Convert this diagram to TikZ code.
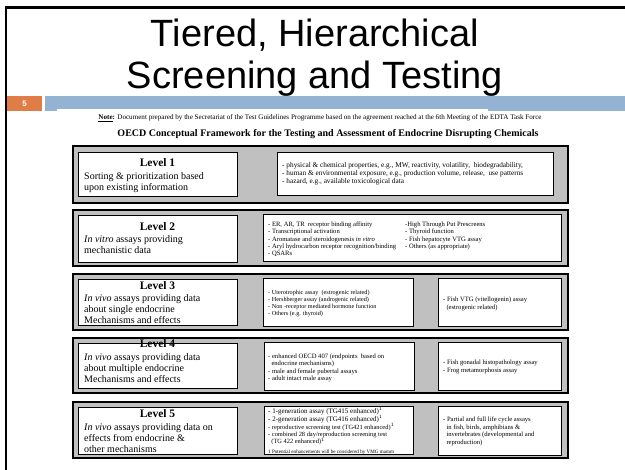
\documentclass[tikz,border=0pt]{standalone}
\usepackage{fontspec}
\setmainfont{Liberation Serif}
\newfontfamily\slidefont{Liberation Sans}
\usetikzlibrary{positioning}
\definecolor{slideblue}{RGB}{148,179,210}
\definecolor{slideorange}{RGB}{224,125,70}
\definecolor{bandgray}{RGB}{192,192,192}
\tikzset{
  band/.style={draw=black, fill=bandgray, line width=1.3pt},
  cell/.style={draw=black, fill=white, line width=0.9pt, inner sep=0pt, anchor=north west},
  lvlhead/.style={font=\fontsize{11.5}{12}\selectfont\bfseries, anchor=base, inner sep=0pt},
  lvlbody/.style={font=\fontsize{10}{11}\selectfont, align=left, anchor=north west, inner sep=0pt},
  tinytext/.style={align=left, anchor=north west, inner sep=0pt},
}
\begin{document}
\begin{tikzpicture}[x=1pt, y=-1pt]
  \useasboundingbox (0,0) rectangle (625,470);
  \fill[white] (0,0) rectangle (625,470);
  % slide frame and title
  \draw[line width=2.5pt] (6,470) -- (6,7.5) -- (625,7.5);
  \node[font=\slidefont\fontsize{38}{42}\selectfont, anchor=base] (title1) at (315,47) {Tiered, Hierarchical};
  \node[font=\slidefont\fontsize{38}{42}\selectfont, anchor=base] (title2) at (315,89) {Screening and Testing};
  \fill[slideorange] (7,96) rectangle (42,111);
  \node[font=\slidefont\fontsize{8}{9}\selectfont\bfseries, text=white] (num) at (24.5,103.5) {5};
  \fill[slideblue] (45,96) rectangle (625,111);
  \fill[white] (57,109.5) rectangle (488,111.5);
  % headings of the framework
  \node[font=\fontsize{7.1}{8}\selectfont, anchor=base] (note) at (320,119.5)
    {\textbf{\underline{Note}:} Document prepared by the Secretariat of the Test Guidelines Programme based on the agreement reached at the 6th Meeting of the EDTA Task Force};
  \node[font=\fontsize{10}{11}\selectfont\bfseries, anchor=base] (frame) at (328,136.5)
    {OECD Conceptual Framework for the Testing and Assessment of Endocrine Disrupting Chemicals};
  % Level 1
  \begin{scope}[yshift=-146pt]
    \draw[band] (73,0) rectangle (568,57);
    \node[cell, minimum width=159pt, minimum height=44pt] (lvl1) at (78,6) {};
    \node[cell, minimum width=276pt, minimum height=43pt] (info1) at (277,6) {};
    \node[lvlhead] (head1) at (157.5,20.5) {Level 1};
    \node[lvlbody] (text1) at (84,26.1) {Sorting \& prioritization based\\upon existing information};
    \node[tinytext, font=\fontsize{7.3}{8}\selectfont] (list1) at (282,16)
      {- physical \& chemical properties, e.g., MW, reactivity, volatility,\ \ biodegradability,\\
       - human \& environmental exposure, e.g., production volume, release,\ \ use patterns\\
       - hazard, e.g., available toxicological data};
  \end{scope}
  % Level 2
  \begin{scope}[yshift=-210pt]
    \draw[band] (73,0) rectangle (568,56);
    \node[cell, minimum width=159pt, minimum height=47pt] (lvl2) at (78,5) {};
    \node[cell, minimum width=298pt, minimum height=47pt] (info2) at (263,4) {};
    \node[lvlhead] (head2) at (157.5,21) {Level 2};
    \node[lvlbody] (text2) at (84,25.1) {\textit{In vitro} assays providing\\mechanistic data};
    \node[tinytext, font=\fontsize{6.6}{7.4}\selectfont] (list2a) at (268,11.5)
      {- ER, AR, TR\ \ receptor binding affinity\\
       - Transcriptional activation\\
       - Aromatase and steroidogenesis \textit{in vitro}\\
       - Aryl hydrocarbon receptor recognition/binding\\
       - QSARs};
    \node[tinytext, font=\fontsize{6.6}{7.4}\selectfont] (list2b) at (405,11.5)
      {-High Through Put Prescreens\\
       - Thyroid function\\
       - Fish hepatocyte VTG assay\\
       - Others (as appropriate)};
  \end{scope}
  % Level 3
  \begin{scope}[yshift=-274pt]
    \draw[band] (73,0) rectangle (568,56);
    \node[cell, minimum width=159pt, minimum height=46pt] (lvl3) at (78,5) {};
    \node[cell, minimum width=150pt, minimum height=48pt] (mid3) at (263,4) {};
    \node[cell, minimum width=123pt, minimum height=48pt] (side3) at (438,4) {};
    \node[lvlhead] (head3) at (157.5,16) {Level 3};
    \node[lvlbody] (text3) at (84,20.6) {\textit{In vivo} assays providing data\\about single endocrine\\Mechanisms and effects};
    \node[tinytext, font=\fontsize{6.2}{7.3}\selectfont] (list3a) at (268,15.5)
      {- Uterotrophic assay\ \ (estrogenic related)\\
       - Hershberger assay (androgenic related)\\
       - Non -receptor mediated hormone function\\
       - Others (e.g. thyroid)};
    \node[tinytext, font=\fontsize{6.6}{8}\selectfont] (list3b) at (443,22.5)
      {- Fish VTG (vitellogenin) assay\\
       \ \ (estrogenic related)};
  \end{scope}
  % Level 4
  \begin{scope}[yshift=-338pt]
    \draw[band] (73,0) rectangle (568,55);
    \node[cell, minimum width=159pt, minimum height=45pt] (lvl4) at (78,5) {};
    \node[cell, minimum width=150pt, minimum height=48pt] (mid4) at (264,4) {};
    \node[cell, minimum width=123pt, minimum height=48pt] (side4) at (438,4) {};
    \node[lvlhead] (head4) at (157.5,10) {Level 4};
    \node[lvlbody] (text4) at (84,15.1) {\textit{In vivo} assays providing data\\about multiple endocrine\\Mechanisms and effects};
    \node[tinytext, font=\fontsize{6.6}{7.5}\selectfont] (list4a) at (268,15.5)
      {- enhanced OECD 407 (endpoints\ \ based on\\
       \ \ endocrine mechanisms)\\
       - male and female pubertal assays\\
       - adult intact male assay};
    \node[tinytext, font=\fontsize{6.6}{8}\selectfont] (list4b) at (443,21.5)
      {- Fish gonadal histopathology assay\\
       - Frog metamorphosis assay};
  \end{scope}
  % Level 5
  \begin{scope}[yshift=-402pt]
    \draw[band] (73,0) rectangle (568,56);
    \node[cell, minimum width=159pt, minimum height=47pt] (lvl5) at (78,5) {};
    \node[cell, minimum width=149pt, minimum height=48pt] (mid5) at (264,4) {};
    \node[cell, minimum width=123pt, minimum height=49pt] (side5) at (438,4) {};
    \node[lvlhead] (head5) at (157.5,16) {Level 5};
    \node[lvlbody] (text5) at (84,21.1) {\textit{In vivo} assays providing data on\\effects from endocrine \&\\other mechanisms};
    \node[tinytext, font=\fontsize{7}{7.4}\selectfont] (list5a) at (268,4.6)
      {- 1-generation assay (TG415 enhanced)$^1$\\
       - 2-generation assay (TG416 enhanced)$^1$};
    \node[tinytext, font=\fontsize{6.4}{7.2}\selectfont] (list5c) at (268,21.2)
      {- reproductive screening test (TG421 enhanced)$^1$\\
       - combined 28 day/reproduction screening test\\
       \ \ (TG 422 enhanced)$^1$};
    \node[tinytext, font=\fontsize{5.1}{6}\selectfont] (foot5) at (268,47.5)
      {1 Potential enhancements will be considered by VMG mamm};
    \node[tinytext, font=\fontsize{6.6}{7.7}\selectfont] (list5b) at (443,14.5)
      {- Partial and full life cycle assays\\
       \ \ in fish, birds, amphibians \&\\
       \ \ invertebrates (developmental and\\
       \ \ reproduction)};
  \end{scope}
\end{tikzpicture}
\end{document}
